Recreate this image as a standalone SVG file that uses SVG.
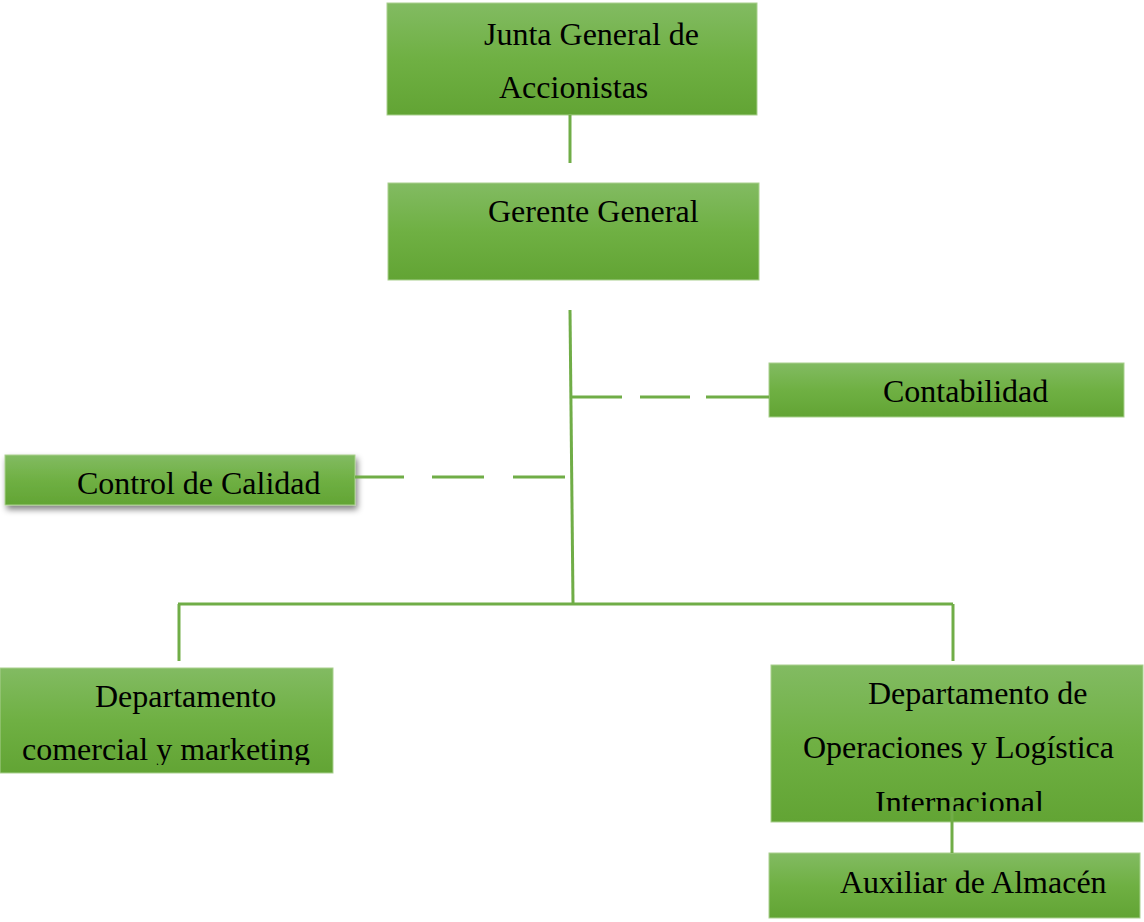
<svg xmlns="http://www.w3.org/2000/svg" width="1144" height="922" viewBox="0 0 1144 922">
<defs>
<linearGradient id="g" x1="0" y1="0" x2="0" y2="1">
<stop offset="0" stop-color="#82bb62"/>
<stop offset="0.5" stop-color="#6fb043"/>
<stop offset="1" stop-color="#62a434"/>
</linearGradient>
<filter id="sh" x="-10%" y="-30%" width="120%" height="170%">
<feGaussianBlur in="SourceAlpha" stdDeviation="3"/>
<feOffset dx="2" dy="4" result="b"/>
<feComponentTransfer><feFuncA type="linear" slope="0.5"/></feComponentTransfer>
<feMerge><feMergeNode/><feMergeNode in="SourceGraphic"/></feMerge>
</filter>
<clipPath id="c1"><rect x="0" y="668" width="333" height="97"/></clipPath>
<clipPath id="c2"><rect x="771" y="665" width="372" height="146"/></clipPath>
</defs>
<style>
.box{fill:url(#g);stroke:#a9d08e;stroke-width:1}
.t{font-family:"Liberation Serif","Times New Roman",serif;font-size:32px;fill:#000}
.ln{stroke:#70ad47;stroke-width:3;fill:none}
.dash{stroke:#70ad47;stroke-width:3;fill:none;stroke-dasharray:50 22}
</style>
<g id="junta">
<rect class="box" x="387" y="3" width="370" height="112"/>
<text class="t" x="484" y="45">Junta General de</text>
<text class="t" x="499" y="98">Accionistas</text>
</g>
<g id="gerente">
<rect class="box" x="388" y="183" width="371" height="97"/>
<text class="t" x="488" y="222">Gerente General</text>
</g>
<g id="contabilidad">
<rect class="box" x="769" y="363" width="355" height="54"/>
<text class="t" x="883" y="402">Contabilidad</text>
</g>
<g id="control">
<rect class="box" x="5" y="455" width="350" height="50" filter="url(#sh)"/>
<text class="t" x="77" y="494">Control de Calidad</text>
</g>
<g id="comercial">
<rect class="box" x="0" y="668" width="333" height="105"/>
<g clip-path="url(#c1)">
<text class="t" x="95" y="707">Departamento</text>
<text class="t" x="22" y="760">comercial y marketing</text>
</g>
</g>
<g id="operaciones">
<rect class="box" x="771" y="665" width="372" height="157"/>
<g clip-path="url(#c2)">
<text class="t" x="868" y="704">Departamento de</text>
<text class="t" x="803" y="758">Operaciones y Logística</text>
<text class="t" x="875" y="813">Internacional</text>
</g>
</g>
<g id="auxiliar">
<rect class="box" x="769" y="853" width="371" height="65"/>
<text class="t" x="840" y="893">Auxiliar de Almacén</text>
</g>
<g id="connectors">
<line class="ln" x1="570" y1="115" x2="570" y2="163"/>
<line class="ln" x1="570" y1="310" x2="573" y2="603"/>
<path class="ln" d="M572 397H622M640 397H690M706 397H769"/>
<path class="ln" d="M355 477H404M432 477H484M513 477H565"/>
<line class="ln" x1="178" y1="604" x2="953" y2="604"/>
<line class="ln" x1="179" y1="604" x2="179" y2="661"/>
<line class="ln" x1="953" y1="604" x2="953" y2="661"/>
<line class="ln" x1="952" y1="797" x2="952" y2="853"/>
</g>
</svg>
